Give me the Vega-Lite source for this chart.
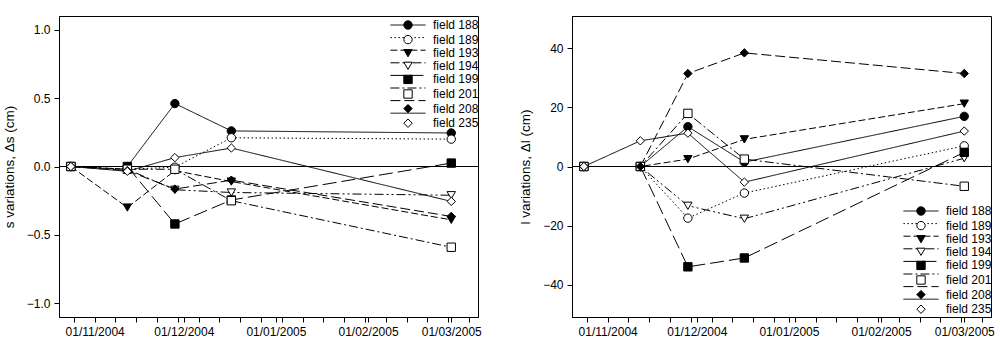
{
  "$schema": "https://vega.github.io/schema/vega-lite/v6.json",
  "padding": {"left": 1, "top": 15, "right": 0, "bottom": 0},
  "background": "white",
  "data": {"values": [
    {"field": "field 188", "date": "2004-10-24", "ds": 0, "dl": 0},
    {"field": "field 188", "date": "2004-11-12", "ds": 0, "dl": 0},
    {"field": "field 188", "date": "2004-11-28", "ds": 0.46, "dl": 13.5},
    {"field": "field 188", "date": "2004-12-17", "ds": 0.26, "dl": 1.5},
    {"field": "field 188", "date": "2005-03-01", "ds": 0.245, "dl": 17},
    {"field": "field 189", "date": "2004-10-24", "ds": 0, "dl": 0},
    {"field": "field 189", "date": "2004-11-12", "ds": -0.02, "dl": 0},
    {"field": "field 189", "date": "2004-11-28", "ds": -0.005, "dl": -17.5},
    {"field": "field 189", "date": "2004-12-17", "ds": 0.21, "dl": -9},
    {"field": "field 189", "date": "2005-03-01", "ds": 0.2, "dl": 7},
    {"field": "field 193", "date": "2004-10-24", "ds": 0, "dl": 0},
    {"field": "field 193", "date": "2004-11-12", "ds": -0.3, "dl": 0},
    {"field": "field 193", "date": "2004-11-28", "ds": -0.03, "dl": 2.5},
    {"field": "field 193", "date": "2004-12-17", "ds": -0.11, "dl": 9.2},
    {"field": "field 193", "date": "2005-03-01", "ds": -0.39, "dl": 21.3},
    {"field": "field 194", "date": "2004-10-24", "ds": 0, "dl": 0},
    {"field": "field 194", "date": "2004-11-12", "ds": -0.02, "dl": 0},
    {"field": "field 194", "date": "2004-11-28", "ds": -0.17, "dl": -13.3},
    {"field": "field 194", "date": "2004-12-17", "ds": -0.19, "dl": -17.7},
    {"field": "field 194", "date": "2005-03-01", "ds": -0.21, "dl": 2.8},
    {"field": "field 199", "date": "2004-10-24", "ds": 0, "dl": 0},
    {"field": "field 199", "date": "2004-11-12", "ds": 0, "dl": 0},
    {"field": "field 199", "date": "2004-11-28", "ds": -0.42, "dl": -34},
    {"field": "field 199", "date": "2004-12-17", "ds": -0.245, "dl": -31},
    {"field": "field 199", "date": "2005-03-01", "ds": 0.025, "dl": 4.8},
    {"field": "field 201", "date": "2004-10-24", "ds": 0, "dl": 0},
    {"field": "field 201", "date": "2004-11-12", "ds": -0.02, "dl": 0},
    {"field": "field 201", "date": "2004-11-28", "ds": -0.02, "dl": 18},
    {"field": "field 201", "date": "2004-12-17", "ds": -0.25, "dl": 2.5},
    {"field": "field 201", "date": "2005-03-01", "ds": -0.59, "dl": -6.7},
    {"field": "field 208", "date": "2004-10-24", "ds": 0, "dl": 0},
    {"field": "field 208", "date": "2004-11-12", "ds": -0.03, "dl": 0},
    {"field": "field 208", "date": "2004-11-28", "ds": -0.165, "dl": 31.5},
    {"field": "field 208", "date": "2004-12-17", "ds": -0.1, "dl": 38.5},
    {"field": "field 208", "date": "2005-03-01", "ds": -0.365, "dl": 31.5},
    {"field": "field 235", "date": "2004-10-24", "ds": 0, "dl": 0},
    {"field": "field 235", "date": "2004-11-12", "ds": -0.035, "dl": 8.7},
    {"field": "field 235", "date": "2004-11-28", "ds": 0.065, "dl": 11.3},
    {"field": "field 235", "date": "2004-12-17", "ds": 0.135, "dl": -5.3},
    {"field": "field 235", "date": "2005-03-01", "ds": -0.255, "dl": 12}
  ]},
  "spacing": 36,
  "hconcat": [
    {
      "width": 419,
      "height": 301,
      "layer": [
        {"mark": {"type": "rule", "color": "black", "strokeWidth": 1}, "encoding": {"y": {"datum": 0, "type": "quantitative"}}},
        {
          "mark": {"type": "line", "color": "black", "strokeWidth": 1},
          "encoding": {
            "x": {"field": "date", "type": "temporal", "title": null,
              "scale": {"type": "utc", "domain": [1098230400000, 1110412800000]},
              "axis": {"tickCount": 40, "labelExpr": "utcdate(datum.value) == 1 ? utcFormat(datum.value, '%d/%m/%Y') : ''", "labelOverlap": false, "labelFlush": false,
                "values": [1098662400000, 1099267200000, 1099872000000, 1100476800000, 1101081600000, 1101686400000, 1101859200000, 1102291200000, 1102896000000, 1103500800000, 1104105600000, 1104537600000, 1104710400000, 1105315200000, 1105920000000, 1106524800000, 1107129600000, 1107216000000, 1107734400000, 1108339200000, 1108944000000, 1109548800000, 1109635200000, 1110153600000]}},
            "y": {"field": "ds", "type": "quantitative", "title": "s variations, Δs (cm)",
              "scale": {"domain": [-1.1, 1.1], "nice": false, "zero": false},
              "axis": {"values": [-1, -0.5, 0, 0.5, 1], "format": ".1f"}},
            "strokeDash": {"field": "field", "type": "nominal",
              "scale": {"domain": ["field 188", "field 189", "field 193", "field 194", "field 199", "field 201", "field 208", "field 235"],
                "range": [[1, 0], [1.5, 2.5], [7, 3], [9, 3, 2, 3, 2, 3], [14, 5], [9, 3, 2, 3], [10, 4], [1, 0]]},
              "legend": {"orient": "none", "legendX": 343, "legendY": 3, "direction": "vertical", "title": null, "symbolType": "M-4.2,0H4.2", "labelOffset": 19, "labelExpr": "' '", "labelColor": "transparent", "labelOpacity": 0}}
          }
        },
        {
          "mark": {"type": "point", "filled": true, "size": 70, "stroke": "black", "strokeWidth": 1, "opacity": 1},
          "encoding": {
            "x": {"field": "date", "type": "temporal"},
            "y": {"field": "ds", "type": "quantitative"},
            "shape": {"field": "field", "type": "nominal",
              "scale": {"domain": ["field 188", "field 189", "field 193", "field 194", "field 199", "field 201", "field 208", "field 235"],
                "range": ["circle", "circle", "triangle-down", "triangle-down", "square", "square", "diamond", "diamond"]},
              "legend": {"orient": "none", "legendX": 343, "legendY": 3, "direction": "vertical", "title": null, "labelOffset": 19,
                "encode": {"symbols": {"update": {"stroke": {"value": "black"}, "strokeWidth": {"value": 1}}}}}},
            "fill": {"field": "field", "type": "nominal",
              "scale": {"domain": ["field 188", "field 189", "field 193", "field 194", "field 199", "field 201", "field 208", "field 235"],
                "range": ["black", "white", "black", "white", "black", "white", "black", "white"]},
              "legend": {"orient": "none", "legendX": 343, "legendY": 3, "direction": "vertical", "title": null, "labelOffset": 19,
                "encode": {"symbols": {"update": {"stroke": {"value": "black"}, "strokeWidth": {"value": 1}}}}}}
          }
        }
      ],
      "resolve": {"legend": {"shape": "independent", "fill": "independent"}}
    },
    {
      "width": 419,
      "height": 301,
      "layer": [
        {"mark": {"type": "rule", "color": "black", "strokeWidth": 1}, "encoding": {"y": {"datum": 0, "type": "quantitative"}}},
        {
          "mark": {"type": "line", "color": "black", "strokeWidth": 1},
          "encoding": {
            "x": {"field": "date", "type": "temporal", "title": null,
              "scale": {"type": "utc", "domain": [1098230400000, 1110412800000]},
              "axis": {"tickCount": 40, "labelExpr": "utcdate(datum.value) == 1 ? utcFormat(datum.value, '%d/%m/%Y') : ''", "labelOverlap": false, "labelFlush": false,
                "values": [1098662400000, 1099267200000, 1099872000000, 1100476800000, 1101081600000, 1101686400000, 1101859200000, 1102291200000, 1102896000000, 1103500800000, 1104105600000, 1104537600000, 1104710400000, 1105315200000, 1105920000000, 1106524800000, 1107129600000, 1107216000000, 1107734400000, 1108339200000, 1108944000000, 1109548800000, 1109635200000, 1110153600000]}},
            "y": {"field": "dl", "type": "quantitative", "title": "l variations, Δl (cm)",
              "scale": {"domain": [-51, 51], "nice": false, "zero": false},
              "axis": {"values": [-40, -20, 0, 20, 40], "format": "d"}},
            "strokeDash": {"field": "field", "type": "nominal",
              "scale": {"domain": ["field 188", "field 189", "field 193", "field 194", "field 199", "field 201", "field 208", "field 235"],
                "range": [[1, 0], [1.5, 2.5], [7, 3], [9, 3, 2, 3, 2, 3], [14, 5], [9, 3, 2, 3], [10, 4], [1, 0]]},
              "legend": {"orient": "none", "legendX": 343, "legendY": 189, "direction": "vertical", "title": null, "symbolType": "M-4.2,0H4.2", "labelOffset": 19, "labelExpr": "' '", "labelColor": "transparent", "labelOpacity": 0}}
          }
        },
        {
          "mark": {"type": "point", "filled": true, "size": 70, "stroke": "black", "strokeWidth": 1, "opacity": 1},
          "encoding": {
            "x": {"field": "date", "type": "temporal"},
            "y": {"field": "dl", "type": "quantitative"},
            "shape": {"field": "field", "type": "nominal",
              "scale": {"domain": ["field 188", "field 189", "field 193", "field 194", "field 199", "field 201", "field 208", "field 235"],
                "range": ["circle", "circle", "triangle-down", "triangle-down", "square", "square", "diamond", "diamond"]},
              "legend": {"orient": "none", "legendX": 343, "legendY": 189, "direction": "vertical", "title": null, "labelOffset": 19,
                "encode": {"symbols": {"update": {"stroke": {"value": "black"}, "strokeWidth": {"value": 1}}}}}},
            "fill": {"field": "field", "type": "nominal",
              "scale": {"domain": ["field 188", "field 189", "field 193", "field 194", "field 199", "field 201", "field 208", "field 235"],
                "range": ["black", "white", "black", "white", "black", "white", "black", "white"]},
              "legend": {"orient": "none", "legendX": 343, "legendY": 189, "direction": "vertical", "title": null, "labelOffset": 19,
                "encode": {"symbols": {"update": {"stroke": {"value": "black"}, "strokeWidth": {"value": 1}}}}}}
          }
        }
      ],
      "resolve": {"legend": {"shape": "independent", "fill": "independent"}}
    }
  ],
  "resolve": {"scale": {"y": "independent", "x": "independent", "strokeDash": "independent", "shape": "independent", "fill": "independent"}},
  "config": {
    "font": "Liberation Sans",
    "view": {"stroke": "black", "strokeWidth": 1},
    "axis": {"grid": false, "domainColor": "black", "domainWidth": 1, "tickColor": "black", "tickWidth": 1, "tickSize": 5,
      "labelColor": "black", "labelFontSize": 12, "labelPadding": 4, "titleColor": "black", "titleFontSize": 13.5, "titleFontWeight": "normal"},
    "axisY": {"titlePadding": 10},
    "legend": {"padding": 0, "labelFontSize": 12, "labelColor": "black", "symbolStrokeColor": "black", "symbolStrokeWidth": 1, "symbolOpacity": 1, "rowPadding": 0.6, "symbolSize": 70, "labelLimit": 200}
  }
}
